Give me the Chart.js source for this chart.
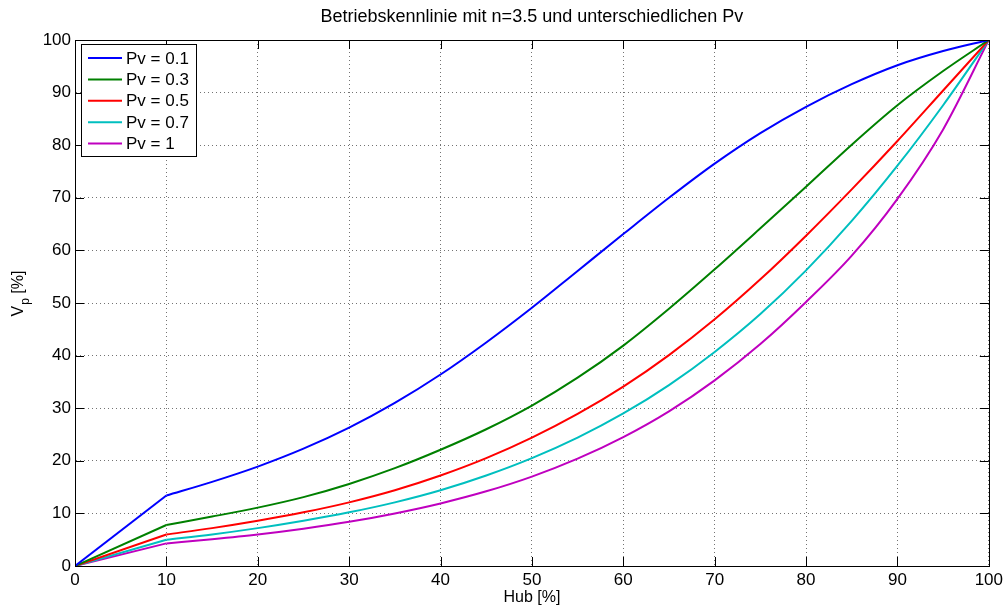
<!DOCTYPE html>
<html>
<head>
<meta charset="utf-8">
<script src="https://cdn.jsdelivr.net/npm/chart.js@4"></script>
<style>
  html, body { margin: 0; padding: 0; background: #fff; }
  canvas { display: block; }
</style>
</head>
<body>
<canvas id="kennlinie" width="1007" height="610"></canvas>
<script>
// Betriebskennlinie - values

const hub = [0, 10, 15, 20, 25, 30, 35, 40, 45, 50, 55, 60, 65, 70, 75, 80, 85, 90, 95, 100];
const pv01 = [0, 13.4, 16.0, 18.9, 22.3, 26.3, 31.0, 36.4, 42.5, 49.1, 56.1, 63.1, 70.0, 76.5, 82.3, 87.3, 91.6, 95.2, 97.9, 100];
const pv03 = [0, 7.8, 9.4, 11.1, 13.1, 15.6, 18.6, 22.1, 26.0, 30.5, 35.8, 41.9, 48.9, 56.4, 64.2, 72.1, 80.1, 87.6, 94.1, 100];
const pv05 = [0, 6.0, 7.2, 8.6, 10.2, 12.1, 14.4, 17.2, 20.5, 24.4, 28.9, 34.1, 40.1, 46.9, 54.5, 62.8, 71.6, 80.8, 90.4, 100];
const pv07 = [0, 5.0, 6.0, 7.2, 8.6, 10.2, 12.1, 14.4, 17.2, 20.5, 24.4, 29.0, 34.4, 40.7, 47.9, 56.2, 65.6, 76.1, 87.6, 100];
const pv10 = [0, 4.3, 5.1, 6.0, 7.1, 8.4, 10.0, 11.9, 14.2, 17.0, 20.4, 24.5, 29.4, 35.3, 42.2, 50.2, 59.0, 69.8, 83.0, 100];

const seriesLabels = ['Pv = 0.1', 'Pv = 0.3', 'Pv = 0.5', 'Pv = 0.7', 'Pv = 1'];
const seriesValues = [pv01, pv03, pv05, pv07, pv10];
const seriesColors = ['#0000ff', '#008000', '#ff0000', '#00bfbf', '#bf00bf'];
const axisTicks = [0, 10, 20, 30, 40, 50, 60, 70, 80, 90, 100];
// the first segment (0..10) is a straight line, the rest is a smooth curve
const kinkIndex = 1;

const titleText = 'Betriebskennlinie mit n=3.5 und unterschiedlichen Pv';
const xTitle = 'Hub [%]';

const FONT = '"Liberation Sans", Arial, Helvetica, sans-serif';

// MATLAB-like frame: box, inward ticks, title, axis labels, legend
const matlabFrame = {
    id: 'matlabFrame',
    afterDraw: (chart) => {
        const {ctx, chartArea: a, scales} = chart;
        ctx.save();
        ctx.strokeStyle = '#000';
        ctx.lineWidth = 1;
        // box
        ctx.strokeRect(Math.round(a.left) + 0.5, Math.round(a.top) + 0.5,
            Math.round(a.right - a.left), Math.round(a.bottom - a.top));
        // inward ticks
        const tl = 9;
        ctx.beginPath();
        axisTicks.forEach(v => {
            const x = Math.round(scales.x.getPixelForValue(v)) + 0.5;
            ctx.moveTo(x, a.bottom); ctx.lineTo(x, a.bottom - tl);
            ctx.moveTo(x, a.top); ctx.lineTo(x, a.top + tl);
            const y = Math.round(scales.y.getPixelForValue(v)) + 0.5;
            ctx.moveTo(a.left, y); ctx.lineTo(a.left + tl, y);
            ctx.moveTo(a.right, y); ctx.lineTo(a.right - tl, y);
        });
        ctx.stroke();

        // title
        ctx.fillStyle = '#000';
        ctx.textAlign = 'center';
        ctx.textBaseline = 'middle';
        ctx.font = '18px ' + FONT;
        ctx.fillText(titleText, (a.left + a.right) / 2, 17);

        // x label
        ctx.font = '16px ' + FONT;
        ctx.fillText(xTitle, (a.left + a.right) / 2, 598);

        // y label with subscript
        ctx.save();
        ctx.translate(19, 294);
        ctx.rotate(-Math.PI / 2);
        ctx.textAlign = 'left';
        ctx.font = '16px ' + FONT;
        const wV = ctx.measureText('V').width;
        ctx.font = '12px ' + FONT;
        const wP = ctx.measureText('p').width;
        ctx.font = '16px ' + FONT;
        const wR = ctx.measureText(' [%]').width;
        const x0 = -(wV + wP + wR) / 2;
        ctx.fillText('V', x0, 0);
        ctx.font = '12px ' + FONT;
        ctx.fillText('p', x0 + wV + 1, 7);
        ctx.font = '16px ' + FONT;
        ctx.fillText(' [%]', x0 + wV + wP + 1, 0);
        ctx.restore();

        // legend
        const lx = a.left + 6, ly = a.top + 4, lw = 115, lh = 112;
        ctx.fillStyle = '#fff';
        ctx.fillRect(lx, ly, lw, lh);
        ctx.strokeStyle = '#000';
        ctx.strokeRect(lx + 0.5, ly + 0.5, lw, lh);
        ctx.font = '17px ' + FONT;
        ctx.textAlign = 'left';
        ctx.textBaseline = 'middle';
        seriesLabels.forEach((label, i) => {
            const ry = ly + 14 + i * 21.4;
            ctx.strokeStyle = seriesColors[i];
            ctx.lineWidth = 2;
            ctx.beginPath();
            ctx.moveTo(lx + 7, ry); ctx.lineTo(lx + 41, ry);
            ctx.stroke();
            ctx.fillStyle = '#000';
            ctx.fillText(label, lx + 45, ry + 1);
        });
        ctx.restore();
    }
};

function makeScale(fitFn) {
    return {
        type: 'linear',
        min: 0,
        max: 100,
        afterBuildTicks: (scale) => { scale.ticks = axisTicks.map(v => ({value: v})); },
        afterFit: fitFn,
        ticks: {
            color: '#000',
            padding: 4,
            font: { family: FONT, size: 17 }
        },
        grid: {
            color: 'rgba(0,0,0,0.55)',
            lineWidth: 1,
            drawTicks: false
        },
        border: { display: true, color: '#000', width: 1, dash: [1, 3] }
    };
}

const xScale = makeScale(s => { s.height = 44; });
const yScale = makeScale(s => { s.width = 75; });

function points(values, from, to) {
    return hub.slice(from, to).map((h, j) => ({x: h, y: values[from + j]}));
}

const datasets = [];
seriesLabels.forEach((label, i) => {
    const common = {
        borderColor: seriesColors[i],
        backgroundColor: seriesColors[i],
        borderWidth: 2,
        pointRadius: 0,
        fill: false
    };
    datasets.push(Object.assign({label: label + ' (start)', data: points(seriesValues[i], 0, kinkIndex + 1), tension: 0}, common));
    datasets.push(Object.assign({label: label, data: points(seriesValues[i], kinkIndex, hub.length), cubicInterpolationMode: 'monotone'}, common));
});

const ctx = document.getElementById('kennlinie').getContext('2d');
new Chart(ctx, {
    type: 'line',
    data: { datasets: datasets },
    options: {
        responsive: false,
        animation: false,
        devicePixelRatio: 1,
        layout: { padding: { top: 40, right: 17, left: 0, bottom: 0 } },
        plugins: { legend: { display: false }, tooltip: { enabled: false }, title: { display: false } },
        scales: { x: xScale, y: yScale }
    },
    plugins: [matlabFrame]
});
</script>
</body>
</html>
